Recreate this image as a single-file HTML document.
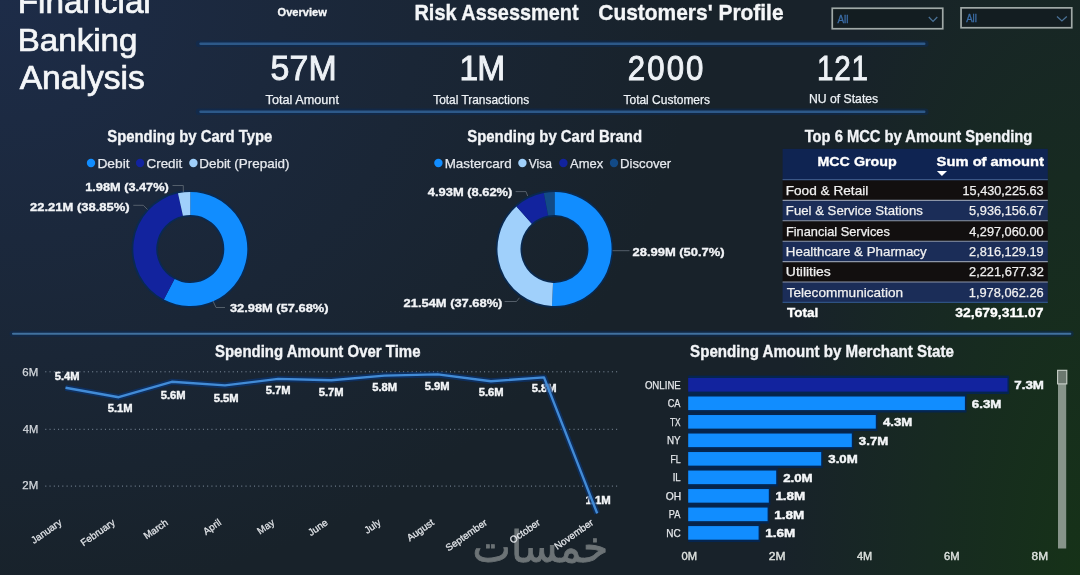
<!DOCTYPE html>
<html><head><meta charset="utf-8"><style>
html,body{margin:0;padding:0;width:1080px;height:575px;overflow:hidden;background:#1a2630;}
#bg{position:absolute;left:0;top:0;width:1080px;height:575px;background:radial-gradient(ellipse 300px 800px at 1080px 575px,rgba(22,50,24,1),rgba(22,50,24,0)),radial-gradient(ellipse 700px 600px at 0px 0px,rgba(29,44,72,1),rgba(29,44,72,0)),#18222a;}
svg{position:absolute;left:0;top:0;font-family:"Liberation Sans",Arial,sans-serif;}
</style></head><body>
<div id="bg"></div>
<svg width="1080" height="575" viewBox="0 0 1080 575">
<text x="17.69" y="13.15" font-size="32.32" font-weight="normal" fill="#f4f6f8" stroke="#f4f6f8" stroke-width="0.7" textLength="133.09" lengthAdjust="spacingAndGlyphs">Financial</text>
<text x="17.70" y="51.15" font-size="32.03" font-weight="normal" fill="#f4f6f8" stroke="#f4f6f8" stroke-width="0.7" textLength="119.77" lengthAdjust="spacingAndGlyphs">Banking</text>
<text x="19.65" y="89.45" font-size="32.32" font-weight="normal" fill="#f4f6f8" stroke="#f4f6f8" stroke-width="0.7" textLength="125.13" lengthAdjust="spacingAndGlyphs">Analysis</text>
<text x="277.53" y="15.82" font-size="11.38" font-weight="bold" fill="#f4f6f8" stroke="#f4f6f8" stroke-width="0.35" textLength="49.26" lengthAdjust="spacingAndGlyphs">Overview</text>
<text x="414.48" y="20.22" font-size="21.96" font-weight="bold" fill="#f4f6f8" stroke="#f4f6f8" stroke-width="0.35" textLength="164.15" lengthAdjust="spacingAndGlyphs">Risk Assessment</text>
<text x="598.34" y="20.22" font-size="21.96" font-weight="bold" fill="#f4f6f8" stroke="#f4f6f8" stroke-width="0.35" textLength="185.25" lengthAdjust="spacingAndGlyphs">Customers' Profile</text>
<rect x="832.25" y="8.25" width="110.50" height="20.50" fill="#131d21" stroke="#a0a9a7" stroke-width="1.7"/>
<text x="837.45" y="23.15" font-size="10.29" font-weight="normal" fill="#3c6ea8" stroke="#3c6ea8" stroke-width="0.3" textLength="11.06" lengthAdjust="spacingAndGlyphs">All</text>
<polyline points="928.8000000000001,17.0 933.05,21.4 937.3,17.0" fill="none" stroke="#4a7196" stroke-width="1.3"/>
<rect x="961.0500000000001" y="7.85" width="110.70" height="19.90" fill="#131d21" stroke="#a0a9a7" stroke-width="1.7"/>
<text x="966.15" y="22.45" font-size="10.29" font-weight="normal" fill="#3c6ea8" stroke="#3c6ea8" stroke-width="0.3" textLength="10.74" lengthAdjust="spacingAndGlyphs">All</text>
<polyline points="1057.0,16.6 1061.9,21 1066.8000000000002,16.6" fill="none" stroke="#4a7196" stroke-width="1.3"/>
<line x1="199" y1="43.8" x2="925.3" y2="43.8" stroke="#0c2b55" stroke-width="6.5" stroke-linecap="round" opacity="0.55"/>
<line x1="200.5" y1="43.8" x2="924.3" y2="43.8" stroke="#2d5989" stroke-width="2.4" stroke-linecap="round"/>
<line x1="199" y1="111.7" x2="925.3" y2="111.7" stroke="#0c2b55" stroke-width="6.5" stroke-linecap="round" opacity="0.55"/>
<line x1="200.5" y1="111.7" x2="924.3" y2="111.7" stroke="#2d5989" stroke-width="2.4" stroke-linecap="round"/>
<text transform="scale(0.97 1)" x="278.86 298.51 318.16" y="79.55" font-size="34.93" font-weight="normal" fill="#eef2f6" stroke="#eef2f6" stroke-width="0.9">57M</text>
<text x="265.57" y="103.88" font-size="12.10" font-weight="normal" fill="#eef2f6" stroke="#eef2f6" stroke-width="0.25" textLength="73.39" lengthAdjust="spacingAndGlyphs">Total Amount</text>
<text transform="scale(0.97 1)" x="473.85 491.95" y="79.85" font-size="34.64" font-weight="normal" fill="#eef2f6" stroke="#eef2f6" stroke-width="0.9">1M</text>
<text x="433.19" y="104.17" font-size="12.10" font-weight="normal" fill="#eef2f6" stroke="#eef2f6" stroke-width="0.25" textLength="96.00" lengthAdjust="spacingAndGlyphs">Total Transactions</text>
<text transform="scale(0.9 1)" x="697.55 719.14 740.73 762.33" y="79.85" font-size="34.64" font-weight="normal" fill="#eef2f6" stroke="#eef2f6" stroke-width="0.9">2000</text>
<text x="623.49" y="104.17" font-size="12.10" font-weight="normal" fill="#eef2f6" stroke="#eef2f6" stroke-width="0.25" textLength="86.51" lengthAdjust="spacingAndGlyphs">Total Customers</text>
<text transform="scale(0.85 1)" x="961.32 981.59 1001.86" y="79.55" font-size="34.93" font-weight="normal" fill="#eef2f6" stroke="#eef2f6" stroke-width="0.9">121</text>
<text x="808.95" y="103.17" font-size="12.10" font-weight="normal" fill="#eef2f6" stroke="#eef2f6" stroke-width="0.25" textLength="69.24" lengthAdjust="spacingAndGlyphs">NU of States</text>
<circle cx="190.3" cy="249" r="45.5" fill="none" stroke="#062a58" stroke-width="26.4" opacity="0.8"/>
<path d="M190.30,192.00 A57,57 0 1 1 163.85,299.49 L174.52,279.12 A34,34 0 1 0 190.30,215.00 Z" fill="#118dff"/>
<path d="M163.85,299.49 A57,57 0 0 1 177.97,193.35 L182.95,215.80 A34,34 0 0 0 174.52,279.12 Z" fill="#12239e"/>
<path d="M177.97,193.35 A57,57 0 0 1 190.30,192.00 L190.30,215.00 A34,34 0 0 0 182.95,215.80 Z" fill="#a0d0fb"/>
<circle cx="554.5" cy="249" r="45.5" fill="none" stroke="#062a58" stroke-width="26.4" opacity="0.8"/>
<path d="M554.50,192.00 A57,57 0 1 1 551.99,305.94 L553.01,282.97 A34,34 0 1 0 554.50,215.00 Z" fill="#118dff"/>
<path d="M551.99,305.94 A57,57 0 0 1 516.48,206.53 L531.82,223.67 A34,34 0 0 0 553.01,282.97 Z" fill="#a0d0fb"/>
<path d="M516.48,206.53 A57,57 0 0 1 543.82,193.01 L548.13,215.60 A34,34 0 0 0 531.82,223.67 Z" fill="#12239e"/>
<path d="M543.82,193.01 A57,57 0 0 1 554.50,192.00 L554.50,215.00 A34,34 0 0 0 548.13,215.60 Z" fill="#124a86"/>
<text x="107.23" y="141.62" font-size="16.30" font-weight="bold" fill="#f2f4f7" stroke="#f2f4f7" stroke-width="0.35" textLength="165.10" lengthAdjust="spacingAndGlyphs">Spending by Card Type</text>
<text x="467.23" y="141.62" font-size="16.30" font-weight="bold" fill="#f2f4f7" stroke="#f2f4f7" stroke-width="0.35" textLength="174.84" lengthAdjust="spacingAndGlyphs">Spending by Card Brand</text>
<text x="804.63" y="141.72" font-size="16.30" font-weight="bold" fill="#f2f4f7" stroke="#f2f4f7" stroke-width="0.35" textLength="227.70" lengthAdjust="spacingAndGlyphs">Top 6 MCC by Amount Spending</text>
<circle cx="91" cy="163" r="4.2" fill="#118dff"/>
<text x="97.42" y="168.28" font-size="12.97" font-weight="normal" fill="#e6e9ee" stroke="#e6e9ee" stroke-width="0.25" textLength="32.18" lengthAdjust="spacingAndGlyphs">Debit</text>
<circle cx="140.1" cy="163" r="4.2" fill="#12239e"/>
<text x="146.56" y="168.28" font-size="12.97" font-weight="normal" fill="#e6e9ee" stroke="#e6e9ee" stroke-width="0.25" textLength="35.72" lengthAdjust="spacingAndGlyphs">Credit</text>
<circle cx="193.4" cy="163" r="4.2" fill="#a0d0fb"/>
<text x="199.25" y="168.28" font-size="12.97" font-weight="normal" fill="#e6e9ee" stroke="#e6e9ee" stroke-width="0.25" textLength="90.30" lengthAdjust="spacingAndGlyphs">Debit (Prepaid)</text>
<circle cx="438.4" cy="163" r="4.2" fill="#118dff"/>
<text x="444.65" y="168.07" font-size="12.97" font-weight="normal" fill="#e6e9ee" stroke="#e6e9ee" stroke-width="0.25" textLength="67.01" lengthAdjust="spacingAndGlyphs">Mastercard</text>
<circle cx="522.4" cy="163" r="4.2" fill="#a0d0fb"/>
<text x="528.76" y="168.07" font-size="12.97" font-weight="normal" fill="#e6e9ee" stroke="#e6e9ee" stroke-width="0.25" textLength="23.24" lengthAdjust="spacingAndGlyphs">Visa</text>
<circle cx="563.4" cy="163" r="4.2" fill="#12239e"/>
<text x="570.12" y="168.07" font-size="12.97" font-weight="normal" fill="#e6e9ee" stroke="#e6e9ee" stroke-width="0.25" textLength="33.00" lengthAdjust="spacingAndGlyphs">Amex</text>
<circle cx="614" cy="163" r="4.2" fill="#124a86"/>
<text x="620.07" y="168.07" font-size="12.97" font-weight="normal" fill="#e6e9ee" stroke="#e6e9ee" stroke-width="0.25" textLength="51.16" lengthAdjust="spacingAndGlyphs">Discover</text>
<text x="85.21" y="190.62" font-size="11.52" font-weight="bold" fill="#f2f4f7" stroke="#f2f4f7" stroke-width="0.35" textLength="83.54" lengthAdjust="spacingAndGlyphs">1.98M (3.47%)</text>
<polyline points="172.5,185.5 183.3,185.5 183.3,192" fill="none" stroke="#5b6570" stroke-width="0.9"/>
<text x="30.02" y="210.62" font-size="11.52" font-weight="bold" fill="#f2f4f7" stroke="#f2f4f7" stroke-width="0.35" textLength="99.60" lengthAdjust="spacingAndGlyphs">22.21M (38.85%)</text>
<polyline points="133.3,205.3 143.3,205.3 147.5,209.5" fill="none" stroke="#5b6570" stroke-width="0.9"/>
<text x="229.95" y="312.43" font-size="11.52" font-weight="bold" fill="#f2f4f7" stroke="#f2f4f7" stroke-width="0.35" textLength="98.56" lengthAdjust="spacingAndGlyphs">32.98M (57.68%)</text>
<polyline points="213,301 216,307.5 225,307.5" fill="none" stroke="#5b6570" stroke-width="0.9"/>
<text x="427.88" y="196.32" font-size="11.52" font-weight="bold" fill="#f2f4f7" stroke="#f2f4f7" stroke-width="0.35" textLength="84.47" lengthAdjust="spacingAndGlyphs">4.93M (8.62%)</text>
<polyline points="515.6,191.6 526,191.6 527.7,196" fill="none" stroke="#5b6570" stroke-width="0.9"/>
<text x="403.62" y="306.52" font-size="11.52" font-weight="bold" fill="#f2f4f7" stroke="#f2f4f7" stroke-width="0.35" textLength="98.79" lengthAdjust="spacingAndGlyphs">21.54M (37.68%)</text>
<polyline points="504.6,301.5 516.5,301.5 519.4,297.8" fill="none" stroke="#5b6570" stroke-width="0.9"/>
<text x="632.52" y="255.72" font-size="11.52" font-weight="bold" fill="#f2f4f7" stroke="#f2f4f7" stroke-width="0.35" textLength="92.05" lengthAdjust="spacingAndGlyphs">28.99M (50.7%)</text>
<polyline points="612.5,250.7 629.5,250.7" fill="none" stroke="#5b6570" stroke-width="0.9"/>
<rect x="782.6" y="148.9" width="265.19999999999993" height="31" fill="#0f2452"/>
<rect x="782.6" y="180.00" width="265.19999999999993" height="20.4" fill="#120f0f"/>
<rect x="782.6" y="200.40" width="265.19999999999993" height="20.4" fill="#1b2d58"/>
<rect x="782.6" y="220.80" width="265.19999999999993" height="20.4" fill="#120f0f"/>
<rect x="782.6" y="241.20" width="265.19999999999993" height="20.4" fill="#1b2d58"/>
<rect x="782.6" y="261.60" width="265.19999999999993" height="20.4" fill="#120f0f"/>
<rect x="782.6" y="282.00" width="265.19999999999993" height="20.4" fill="#1b2d58"/>
<line x1="782.6" y1="200.40" x2="1047.8" y2="200.40" stroke="#8d96a8" stroke-width="1.1"/>
<line x1="782.6" y1="220.80" x2="1047.8" y2="220.80" stroke="#8d96a8" stroke-width="1.1"/>
<line x1="782.6" y1="241.20" x2="1047.8" y2="241.20" stroke="#8d96a8" stroke-width="1.1"/>
<line x1="782.6" y1="261.60" x2="1047.8" y2="261.60" stroke="#8d96a8" stroke-width="1.1"/>
<line x1="782.6" y1="282.00" x2="1047.8" y2="282.00" stroke="#8d96a8" stroke-width="1.1"/>
<line x1="782.6" y1="302.40" x2="1047.8" y2="302.40" stroke="#2e5282" stroke-width="1.1"/>
<line x1="782.6" y1="179.6" x2="1047.8" y2="179.6" stroke="#3b5685" stroke-width="1.2"/>
<text x="817.45" y="165.52" font-size="12.54" font-weight="bold" fill="#ffffff" stroke="#ffffff" stroke-width="0.35" textLength="79.24" lengthAdjust="spacingAndGlyphs">MCC Group</text>
<text x="936.63" y="165.52" font-size="12.54" font-weight="bold" fill="#ffffff" stroke="#ffffff" stroke-width="0.35" textLength="107.18" lengthAdjust="spacingAndGlyphs">Sum of amount</text>
<polygon points="936.9,170.9 947,170.9 941.95,176.1" fill="#ffffff"/>
<text x="785.73" y="194.88" font-size="12.83" font-weight="normal" fill="#f0f0f0" stroke="#f0f0f0" stroke-width="0.25" textLength="82.58" lengthAdjust="spacingAndGlyphs">Food &amp; Retail</text>
<text x="962.57" y="194.88" font-size="12.83" font-weight="normal" fill="#f0f0f0" stroke="#f0f0f0" stroke-width="0.25" textLength="81.11" lengthAdjust="spacingAndGlyphs">15,430,225.63</text>
<text x="785.87" y="215.28" font-size="12.83" font-weight="normal" fill="#f0f0f0" stroke="#f0f0f0" stroke-width="0.25" textLength="136.95" lengthAdjust="spacingAndGlyphs">Fuel &amp; Service Stations</text>
<text x="969.11" y="215.28" font-size="12.83" font-weight="normal" fill="#f0f0f0" stroke="#f0f0f0" stroke-width="0.25" textLength="74.69" lengthAdjust="spacingAndGlyphs">5,936,156.67</text>
<text x="785.90" y="235.68" font-size="12.83" font-weight="normal" fill="#f0f0f0" stroke="#f0f0f0" stroke-width="0.25" textLength="103.92" lengthAdjust="spacingAndGlyphs">Financial Services</text>
<text x="969.17" y="235.68" font-size="12.83" font-weight="normal" fill="#f0f0f0" stroke="#f0f0f0" stroke-width="0.25" textLength="74.44" lengthAdjust="spacingAndGlyphs">4,297,060.00</text>
<text x="785.86" y="256.07" font-size="12.83" font-weight="normal" fill="#f0f0f0" stroke="#f0f0f0" stroke-width="0.25" textLength="140.82" lengthAdjust="spacingAndGlyphs">Healthcare &amp; Pharmacy</text>
<text x="969.09" y="256.07" font-size="12.83" font-weight="normal" fill="#f0f0f0" stroke="#f0f0f0" stroke-width="0.25" textLength="74.65" lengthAdjust="spacingAndGlyphs">2,816,129.19</text>
<text x="785.88" y="276.48" font-size="12.83" font-weight="normal" fill="#f0f0f0" stroke="#f0f0f0" stroke-width="0.25" textLength="44.95" lengthAdjust="spacingAndGlyphs">Utilities</text>
<text x="969.09" y="276.48" font-size="12.83" font-weight="normal" fill="#f0f0f0" stroke="#f0f0f0" stroke-width="0.25" textLength="74.72" lengthAdjust="spacingAndGlyphs">2,221,677.32</text>
<text x="786.65" y="296.88" font-size="12.83" font-weight="normal" fill="#f0f0f0" stroke="#f0f0f0" stroke-width="0.25" textLength="116.40" lengthAdjust="spacingAndGlyphs">Telecommunication</text>
<text x="968.76" y="296.88" font-size="12.83" font-weight="normal" fill="#f0f0f0" stroke="#f0f0f0" stroke-width="0.25" textLength="74.91" lengthAdjust="spacingAndGlyphs">1,978,062.26</text>
<text x="787.04" y="317.12" font-size="12.68" font-weight="bold" fill="#ffffff" stroke="#ffffff" stroke-width="0.35" textLength="31.22" lengthAdjust="spacingAndGlyphs">Total</text>
<text x="955.33" y="316.82" font-size="12.25" font-weight="bold" fill="#ffffff" stroke="#ffffff" stroke-width="0.35" textLength="88.05" lengthAdjust="spacingAndGlyphs">32,679,311.07</text>
<line x1="12.6" y1="333.8" x2="1070.7" y2="333.8" stroke="#0c2b55" stroke-width="6" stroke-linecap="round" opacity="0.55"/>
<line x1="13" y1="333.8" x2="1070.3" y2="333.8" stroke="#41719f" stroke-width="2.1" stroke-linecap="round"/>
<text x="214.93" y="357.02" font-size="15.87" font-weight="bold" fill="#f2f4f7" stroke="#f2f4f7" stroke-width="0.35" textLength="205.61" lengthAdjust="spacingAndGlyphs">Spending Amount Over Time</text>
<text x="690.12" y="356.82" font-size="15.87" font-weight="bold" fill="#f2f4f7" stroke="#f2f4f7" stroke-width="0.35" textLength="263.72" lengthAdjust="spacingAndGlyphs">Spending Amount by Merchant State</text>
<text x="22.35" y="375.68" font-size="10.07" font-weight="normal" fill="#d4d8dd" stroke="#d4d8dd" stroke-width="0.25" textLength="15.88" lengthAdjust="spacingAndGlyphs">6M</text>
<line x1="45.3" y1="371.8" x2="620" y2="371.8" stroke="#8593a3" stroke-width="1" stroke-dasharray="1 3.26"/>
<text x="22.70" y="432.88" font-size="10.07" font-weight="normal" fill="#d4d8dd" stroke="#d4d8dd" stroke-width="0.25" textLength="15.51" lengthAdjust="spacingAndGlyphs">4M</text>
<line x1="45.3" y1="429.3" x2="620" y2="429.3" stroke="#8593a3" stroke-width="1" stroke-dasharray="1 3.26"/>
<text x="22.35" y="489.38" font-size="10.07" font-weight="normal" fill="#d4d8dd" stroke="#d4d8dd" stroke-width="0.25" textLength="15.88" lengthAdjust="spacingAndGlyphs">2M</text>
<line x1="45.3" y1="486.1" x2="620" y2="486.1" stroke="#8593a3" stroke-width="1" stroke-dasharray="1 3.26"/>
<text x="54.76" y="379.60" font-size="10.29" font-weight="bold" fill="#f4f6f8" stroke="#f4f6f8" stroke-width="0.4" textLength="24.90" lengthAdjust="spacingAndGlyphs">5.4M</text>
<text x="107.76" y="411.80" font-size="10.29" font-weight="bold" fill="#f4f6f8" stroke="#f4f6f8" stroke-width="0.4" textLength="24.90" lengthAdjust="spacingAndGlyphs">5.1M</text>
<text x="160.76" y="398.50" font-size="10.29" font-weight="bold" fill="#f4f6f8" stroke="#f4f6f8" stroke-width="0.4" textLength="24.90" lengthAdjust="spacingAndGlyphs">5.6M</text>
<text x="213.76" y="401.50" font-size="10.29" font-weight="bold" fill="#f4f6f8" stroke="#f4f6f8" stroke-width="0.4" textLength="24.90" lengthAdjust="spacingAndGlyphs">5.5M</text>
<text x="265.76" y="393.80" font-size="10.29" font-weight="bold" fill="#f4f6f8" stroke="#f4f6f8" stroke-width="0.4" textLength="24.90" lengthAdjust="spacingAndGlyphs">5.7M</text>
<text x="318.76" y="395.50" font-size="10.29" font-weight="bold" fill="#f4f6f8" stroke="#f4f6f8" stroke-width="0.4" textLength="24.90" lengthAdjust="spacingAndGlyphs">5.7M</text>
<text x="372.26" y="390.50" font-size="10.29" font-weight="bold" fill="#f4f6f8" stroke="#f4f6f8" stroke-width="0.4" textLength="24.90" lengthAdjust="spacingAndGlyphs">5.8M</text>
<text x="424.76" y="389.60" font-size="10.29" font-weight="bold" fill="#f4f6f8" stroke="#f4f6f8" stroke-width="0.4" textLength="24.90" lengthAdjust="spacingAndGlyphs">5.9M</text>
<text x="478.76" y="396.30" font-size="10.29" font-weight="bold" fill="#f4f6f8" stroke="#f4f6f8" stroke-width="0.4" textLength="24.90" lengthAdjust="spacingAndGlyphs">5.6M</text>
<text x="531.76" y="392.30" font-size="10.29" font-weight="bold" fill="#f4f6f8" stroke="#f4f6f8" stroke-width="0.4" textLength="24.90" lengthAdjust="spacingAndGlyphs">5.8M</text>
<text x="585.42" y="504.00" font-size="10.29" font-weight="bold" fill="#f4f6f8" stroke="#f4f6f8" stroke-width="0.4" textLength="25.26" lengthAdjust="spacingAndGlyphs">1.1M</text>
<polyline points="65.5,387.7 118.7,397.2 171.8,381.8 225.0,385.4 278.2,378.9 331.4,380.3 384.5,375.6 437.7,374.4 490.9,381.3 544.0,377.4 597.2,513.4" fill="none" stroke="#0a3370" stroke-width="6" stroke-linejoin="round" opacity="0.7"/>
<polyline points="65.5,387.7 118.7,397.2 171.8,381.8 225.0,385.4 278.2,378.9 331.4,380.3 384.5,375.6 437.7,374.4 490.9,381.3 544.0,377.4 597.2,513.4" fill="none" stroke="#428bd6" stroke-width="2.4" stroke-linejoin="round"/>
<text transform="translate(472.6 561.6) scale(1.13 1.22)" x="0" y="0" font-size="36" fill="#6c7376" stroke="#6c7376" stroke-width="0.7" font-family="DejaVu Sans, sans-serif">خمسات</text>
<text x="62.5" y="524" font-size="9.8" fill="#e2e5e9" stroke="#e2e5e9" stroke-width="0.25" text-anchor="end" transform="rotate(-35 62.5 524)">January</text>
<text x="115.7" y="524" font-size="9.8" fill="#e2e5e9" stroke="#e2e5e9" stroke-width="0.25" text-anchor="end" transform="rotate(-35 115.7 524)">February</text>
<text x="168.8" y="524" font-size="9.8" fill="#e2e5e9" stroke="#e2e5e9" stroke-width="0.25" text-anchor="end" transform="rotate(-35 168.8 524)">March</text>
<text x="222.0" y="524" font-size="9.8" fill="#e2e5e9" stroke="#e2e5e9" stroke-width="0.25" text-anchor="end" transform="rotate(-35 222.0 524)">April</text>
<text x="275.2" y="524" font-size="9.8" fill="#e2e5e9" stroke="#e2e5e9" stroke-width="0.25" text-anchor="end" transform="rotate(-35 275.2 524)">May</text>
<text x="328.4" y="524" font-size="9.8" fill="#e2e5e9" stroke="#e2e5e9" stroke-width="0.25" text-anchor="end" transform="rotate(-35 328.4 524)">June</text>
<text x="381.5" y="524" font-size="9.8" fill="#e2e5e9" stroke="#e2e5e9" stroke-width="0.25" text-anchor="end" transform="rotate(-35 381.5 524)">July</text>
<text x="434.7" y="524" font-size="9.8" fill="#e2e5e9" stroke="#e2e5e9" stroke-width="0.25" text-anchor="end" transform="rotate(-35 434.7 524)">August</text>
<text x="487.9" y="524" font-size="9.8" fill="#e2e5e9" stroke="#e2e5e9" stroke-width="0.25" text-anchor="end" transform="rotate(-35 487.9 524)">September</text>
<text x="541.0" y="524" font-size="9.8" fill="#e2e5e9" stroke="#e2e5e9" stroke-width="0.25" text-anchor="end" transform="rotate(-35 541.0 524)">October</text>
<text x="594.2" y="524" font-size="9.8" fill="#e2e5e9" stroke="#e2e5e9" stroke-width="0.25" text-anchor="end" transform="rotate(-35 594.2 524)">November</text>
<rect x="688.2" y="375.60" width="320.90" height="18.40" fill="#05254f"/>
<rect x="688.2" y="394.11" width="278.30" height="18.40" fill="#05254f"/>
<rect x="688.2" y="412.62" width="189.20" height="18.40" fill="#05254f"/>
<rect x="688.2" y="431.13" width="165.20" height="18.40" fill="#05254f"/>
<rect x="688.2" y="449.64" width="134.60" height="18.40" fill="#05254f"/>
<rect x="688.2" y="468.15" width="89.60" height="18.40" fill="#05254f"/>
<rect x="688.2" y="486.66" width="82.20" height="18.40" fill="#05254f"/>
<rect x="688.2" y="505.17" width="81.00" height="18.40" fill="#05254f"/>
<rect x="688.2" y="523.68" width="72.00" height="18.40" fill="#05254f"/>
<rect x="688.2" y="378.00" width="319.30" height="13.6" fill="#12239e"/>
<text x="644.89" y="388.57" font-size="10.36" font-weight="normal" fill="#e4e7ea" stroke="#e4e7ea" stroke-width="0.25" textLength="35.90" lengthAdjust="spacingAndGlyphs">ONLINE</text>
<text x="1014.39" y="389.07" font-size="11.67" font-weight="bold" fill="#f4f6f8" stroke="#f4f6f8" stroke-width="0.45" textLength="29.59" lengthAdjust="spacingAndGlyphs">7.3M</text>
<rect x="688.2" y="396.51" width="276.70" height="13.6" fill="#118dff"/>
<text x="667.67" y="407.08" font-size="10.36" font-weight="normal" fill="#e4e7ea" stroke="#e4e7ea" stroke-width="0.25" textLength="12.75" lengthAdjust="spacingAndGlyphs">CA</text>
<text x="971.86" y="407.58" font-size="11.67" font-weight="bold" fill="#f4f6f8" stroke="#f4f6f8" stroke-width="0.45" textLength="29.52" lengthAdjust="spacingAndGlyphs">6.3M</text>
<rect x="688.2" y="415.02" width="187.60" height="13.6" fill="#118dff"/>
<text x="669.96" y="425.59" font-size="10.36" font-weight="normal" fill="#e4e7ea" stroke="#e4e7ea" stroke-width="0.25" textLength="10.61" lengthAdjust="spacingAndGlyphs">TX</text>
<text x="883.03" y="426.09" font-size="11.67" font-weight="bold" fill="#f4f6f8" stroke="#f4f6f8" stroke-width="0.45" textLength="29.24" lengthAdjust="spacingAndGlyphs">4.3M</text>
<rect x="688.2" y="433.53" width="163.60" height="13.6" fill="#118dff"/>
<text x="666.94" y="444.10" font-size="10.36" font-weight="normal" fill="#e4e7ea" stroke="#e4e7ea" stroke-width="0.25" textLength="13.68" lengthAdjust="spacingAndGlyphs">NY</text>
<text x="858.89" y="444.60" font-size="11.67" font-weight="bold" fill="#f4f6f8" stroke="#f4f6f8" stroke-width="0.45" textLength="29.38" lengthAdjust="spacingAndGlyphs">3.7M</text>
<rect x="688.2" y="452.04" width="133.00" height="13.6" fill="#118dff"/>
<text x="670.42" y="462.62" font-size="10.36" font-weight="normal" fill="#e4e7ea" stroke="#e4e7ea" stroke-width="0.25" textLength="10.23" lengthAdjust="spacingAndGlyphs">FL</text>
<text x="828.29" y="463.12" font-size="11.67" font-weight="bold" fill="#f4f6f8" stroke="#f4f6f8" stroke-width="0.45" textLength="29.38" lengthAdjust="spacingAndGlyphs">3.0M</text>
<rect x="688.2" y="470.55" width="88.00" height="13.6" fill="#118dff"/>
<text x="672.66" y="481.12" font-size="10.36" font-weight="normal" fill="#e4e7ea" stroke="#e4e7ea" stroke-width="0.25" textLength="7.99" lengthAdjust="spacingAndGlyphs">IL</text>
<text x="783.16" y="481.62" font-size="11.67" font-weight="bold" fill="#f4f6f8" stroke="#f4f6f8" stroke-width="0.45" textLength="29.52" lengthAdjust="spacingAndGlyphs">2.0M</text>
<rect x="688.2" y="489.06" width="80.60" height="13.6" fill="#118dff"/>
<text x="665.76" y="499.63" font-size="10.36" font-weight="normal" fill="#e4e7ea" stroke="#e4e7ea" stroke-width="0.25" textLength="15.44" lengthAdjust="spacingAndGlyphs">OH</text>
<text x="775.42" y="500.13" font-size="11.67" font-weight="bold" fill="#f4f6f8" stroke="#f4f6f8" stroke-width="0.45" textLength="29.87" lengthAdjust="spacingAndGlyphs">1.8M</text>
<rect x="688.2" y="507.57" width="79.40" height="13.6" fill="#118dff"/>
<text x="668.79" y="518.15" font-size="10.36" font-weight="normal" fill="#e4e7ea" stroke="#e4e7ea" stroke-width="0.25" textLength="11.58" lengthAdjust="spacingAndGlyphs">PA</text>
<text x="774.22" y="518.64" font-size="11.67" font-weight="bold" fill="#f4f6f8" stroke="#f4f6f8" stroke-width="0.45" textLength="29.87" lengthAdjust="spacingAndGlyphs">1.8M</text>
<rect x="688.2" y="526.08" width="70.40" height="13.6" fill="#118dff"/>
<text x="666.33" y="536.66" font-size="10.36" font-weight="normal" fill="#e4e7ea" stroke="#e4e7ea" stroke-width="0.25" textLength="14.44" lengthAdjust="spacingAndGlyphs">NC</text>
<text x="765.22" y="537.15" font-size="11.67" font-weight="bold" fill="#f4f6f8" stroke="#f4f6f8" stroke-width="0.45" textLength="29.87" lengthAdjust="spacingAndGlyphs">1.6M</text>
<text x="681.63" y="560.43" font-size="10.07" font-weight="normal" fill="#dfe3e0" stroke="#dfe3e0" stroke-width="0.35" textLength="15.54" lengthAdjust="spacingAndGlyphs">0M</text>
<text x="768.87" y="560.43" font-size="10.07" font-weight="normal" fill="#dfe3e0" stroke="#dfe3e0" stroke-width="0.35" textLength="16.77" lengthAdjust="spacingAndGlyphs">2M</text>
<text x="856.96" y="560.43" font-size="10.07" font-weight="normal" fill="#dfe3e0" stroke="#dfe3e0" stroke-width="0.35" textLength="15.19" lengthAdjust="spacingAndGlyphs">4M</text>
<text x="944.02" y="560.43" font-size="10.07" font-weight="normal" fill="#dfe3e0" stroke="#dfe3e0" stroke-width="0.35" textLength="15.55" lengthAdjust="spacingAndGlyphs">6M</text>
<text x="1031.64" y="560.43" font-size="10.07" font-weight="normal" fill="#dfe3e0" stroke="#dfe3e0" stroke-width="0.35" textLength="16.48" lengthAdjust="spacingAndGlyphs">8M</text>
<rect x="1058" y="370.5" width="8.2" height="178" fill="#87948a"/>
<rect x="1057.6" y="370.3" width="9.2" height="13.6" fill="#6c786f" stroke="#c9d0c9" stroke-width="1.1"/>
</svg>
</body></html>
